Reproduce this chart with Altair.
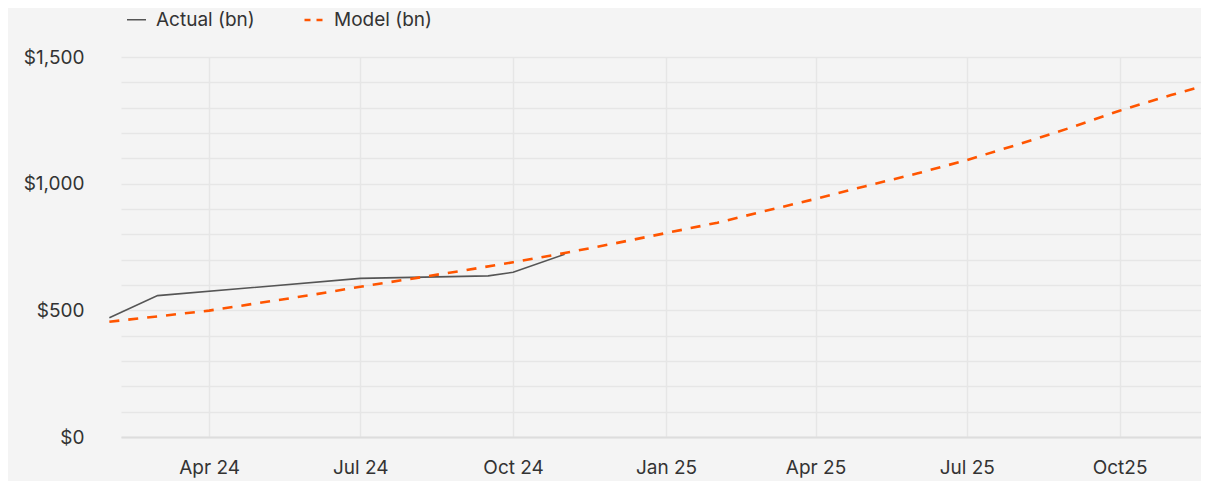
import altair as alt
import pandas as pd

# ---- data ----
ACTUAL_DATES = ["2024-02-01", "2024-03-01", "2024-07-01", "2024-09-16", "2024-10-01", "2024-11-01"]
ACTUAL_VALUES = [471, 558, 626, 636, 650, 721]

MODEL_DATES = [
    "2024-02-01", "2024-03-01", "2024-04-01", "2024-05-01", "2024-06-01", "2024-07-01",
    "2024-08-01", "2024-09-01", "2024-10-01", "2024-11-01", "2024-12-01", "2025-01-01",
    "2025-02-01", "2025-03-01", "2025-04-01", "2025-05-01", "2025-06-01", "2025-07-01",
    "2025-08-01", "2025-09-01", "2025-10-01", "2025-11-01", "2025-11-21",
]
MODEL_VALUES = [
    455, 476, 499, 529, 560, 593,
    625, 657, 690, 726, 764, 805,
    846, 891, 940, 990, 1040, 1093,
    1155, 1220, 1288, 1350, 1386,
]

SERIES = ["Actual (bn)", "Model (bn)"]
COLORS = ["#555555", "#ff5500"]
LEGEND_DASHES = [[1, 0], [6, 6]]
LEGEND_WIDTHS = [1.5, 2.5]

X_TICK_DATES = ["2024-04", "2024-07", "2024-10", "2025-01", "2025-04", "2025-07", "2025-10"]
X_TICK_LABELS = ["Apr 24", "Jul 24", "Oct 24", "Jan 25", "Apr 25", "Jul 25", "Oct25"]
Y_TICKS = [0, 100, 200, 300, 400, 500, 600, 700, 800, 900, 1000, 1100, 1200, 1300, 1400, 1500]

FONT = "Inter"
FONT_SIZE = 19
TEXT_COLOR = "#333333"
BG = "#f4f4f4"

# ---- build table ----
df = pd.concat([
    pd.DataFrame({"date": ACTUAL_DATES, "value": ACTUAL_VALUES, "series": SERIES[0]}),
    pd.DataFrame({"date": MODEL_DATES, "value": MODEL_VALUES, "series": SERIES[1]}),
], ignore_index=True)

tick_values = []
for d in X_TICK_DATES:
    y, m = d.split("-")
    tick_values.append(alt.DateTime(year=int(y), month=int(m), date=1, utc=True))
label_map = "{" + ", ".join(f"'{d}': '{l}'" for d, l in zip(X_TICK_DATES, X_TICK_LABELS)) + "}"

x_enc = alt.X(
    "date:T",
    scale=alt.Scale(
        type="utc",
        domain=[alt.DateTime(year=2024, month=2, date=8, utc=True),
                alt.DateTime(year=2025, month=11, date=19, utc=True)],
    ),
    axis=alt.Axis(
        values=tick_values,
        labelExpr=f"{label_map}[utcFormat(datum.value, '%Y-%m')]",
        title=None,
        grid=True,
        ticks=False,
        domain=True,
        domainColor="#dddddd",
        domainWidth=2,
        labelPadding=21,
        labelFont=FONT,
        labelFontSize=FONT_SIZE,
        labelColor=TEXT_COLOR,
        gridColor="#e6e6e6",
        gridWidth=1.5,
    ),
)

y_enc = alt.Y(
    "value:Q",
    scale=alt.Scale(domain=[0, 1500], nice=False),
    axis=alt.Axis(
        values=Y_TICKS,
        labelExpr="datum.value % 500 == 0 ? format(datum.value, '$,') : ''",
        title=None,
        grid=True,
        ticks=False,
        domain=False,
        labelPadding=37,
        labelFont=FONT,
        labelFontSize=FONT_SIZE,
        labelColor=TEXT_COLOR,
        gridColor="#e6e6e6",
        gridWidth=1.5,
    ),
)

legend = alt.Legend(
    title=None,
    orient="none",
    legendX=5,
    legendY=-48,
    direction="horizontal",
    symbolType="stroke",
    symbolSize=361,
    symbolOpacity=1,
    labelFont=FONT,
    labelFontSize=FONT_SIZE,
    labelColor=TEXT_COLOR,
    labelOffset=9,
    columnPadding=44,
)

color_enc = alt.Color(
    "series:N",
    scale=alt.Scale(domain=SERIES, range=COLORS),
    legend=legend,
)

base = alt.Chart(df).encode(x=x_enc, y=y_enc, color=color_enc)

actual = base.transform_filter(alt.datum.series == SERIES[0]).mark_line(strokeWidth=1.6)
model = base.transform_filter(alt.datum.series == SERIES[1]).mark_line(strokeWidth=2.6, strokeDash=[10, 9])

# legend-only layer (draws nothing; carries the legend's dash/width styling)
legend_layer = base.transform_filter("false").mark_line().encode(
    strokeDash=alt.StrokeDash("series:N", scale=alt.Scale(domain=SERIES, range=LEGEND_DASHES), legend=legend),
    strokeWidth=alt.StrokeWidth("series:N", scale=alt.Scale(domain=SERIES, range=LEGEND_WIDTHS), legend=legend),
)

chart = (
    alt.layer(actual, model, legend_layer)
    .properties(
        width=1080,
        height=380,
        autosize=alt.AutoSizeParams(type="none"),
        padding={"left": 113, "top": 49, "right": 0, "bottom": 44},
        background=BG,
    )
    .configure_view(stroke="transparent")
)

chart.save("out.html", embed_options={"renderer": "svg", "actions": False})
